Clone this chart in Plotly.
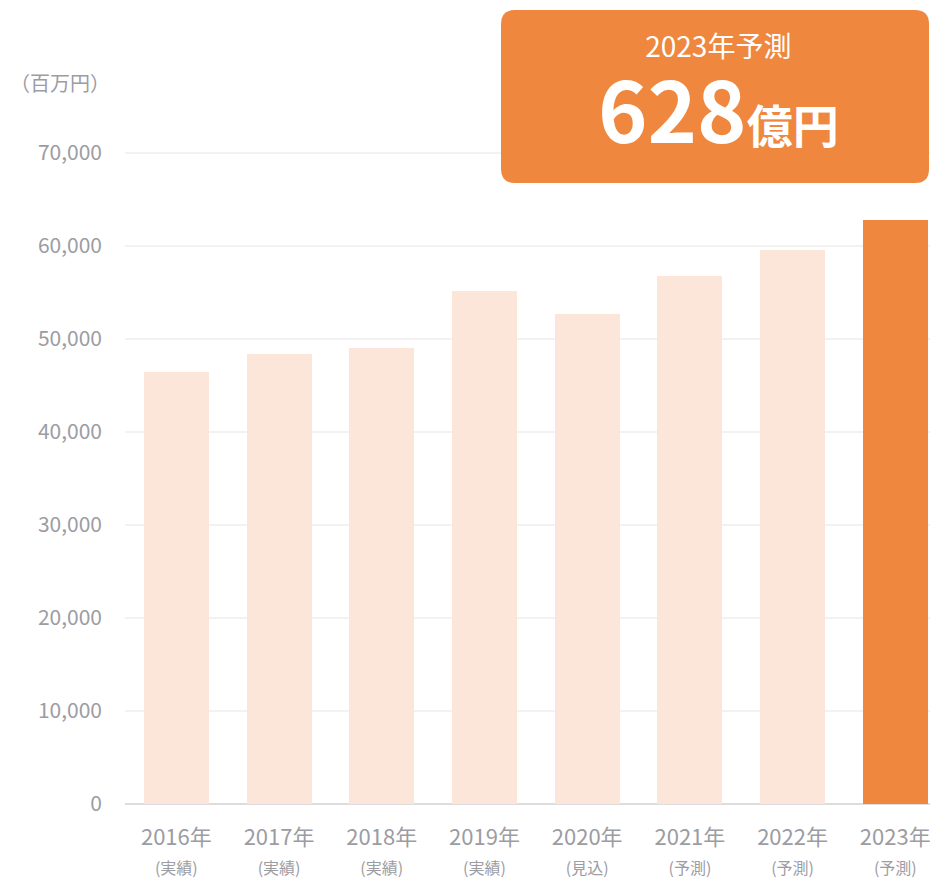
import plotly.graph_objects as go

years = ["2016年", "2017年", "2018年", "2019年", "2020年", "2021年", "2022年", "2023年"]
status = ["(実績)", "(実績)", "(実績)", "(実績)", "(見込)", "(予測)", "(予測)", "(予測)"]
values = [46450, 48350, 49000, 55130, 52650, 56740, 59610, 62800]
y_ticks = [0, 10000, 20000, 30000, 40000, 50000, 60000, 70000]
y_tick_labels = ["0", "10,000", "20,000", "30,000", "40,000", "50,000", "60,000", "70,000"]

LIGHT = "#FCE6D9"
ORANGE = "#EF873F"
GRAY = "#9C9CA3"
FONT = "Noto Sans CJK JP"

colors = [LIGHT] * (len(values) - 1) + [ORANGE]
ticktext = [f"{y}<br><span style='font-size:16px'>{s}</span>" for y, s in zip(years, status)]

W, H = 930, 880
L, R, T, B = 125, 0, 60, 76
pw, ph = W - L - R, H - T - B

def px(x):
    return (x - L) / pw

def py(y):
    return (H - B - y) / ph

fig = go.Figure(go.Bar(
    x=list(range(len(years))), y=values, marker_color=colors,
    marker_line_width=0, width=0.633, hoverinfo="skip",
))

# rounded box
x0, x1, y0, y1, r = 501, 929, 10, 183, 14
path = (
    f"M {px(x0 + r)} {py(y0)} L {px(x1 - r)} {py(y0)} "
    f"Q {px(x1)} {py(y0)} {px(x1)} {py(y0 + r)} "
    f"L {px(x1)} {py(y1 - r)} Q {px(x1)} {py(y1)} {px(x1 - r)} {py(y1)} "
    f"L {px(x0 + r)} {py(y1)} Q {px(x0)} {py(y1)} {px(x0)} {py(y1 - r)} "
    f"L {px(x0)} {py(y0 + r)} Q {px(x0)} {py(y0)} {px(x0 + r)} {py(y0)} Z"
)
fig.add_shape(type="path", path=path, xref="paper", yref="paper",
              fillcolor=ORANGE, line_width=0, layer="above")

box_text = ("<span style='font-size:28px'>2023年予測</span><br>"
            "<span style='font-size:84px'><b>628</b></span>"
            "<span style='font-size:46px'><b>億円</b></span>")
fig.add_annotation(x=px(718), y=py(96), xref="paper", yref="paper",
                   xanchor="center", yanchor="middle",
                   text=box_text, showarrow=False,
                   font=dict(family=FONT, size=66, color="white"))
fig.add_annotation(x=px(60), y=py(83), xref="paper", yref="paper",
                   xanchor="center", yanchor="middle",
                   text="（百万円）", showarrow=False,
                   font=dict(family=FONT, size=20, color=GRAY))

fig.update_layout(
    width=W, height=H,
    margin=dict(l=L, r=R, t=T, b=B),
    plot_bgcolor="white", paper_bgcolor="white",
    showlegend=False,
    bargap=0,
    font=dict(family=FONT, color=GRAY),
    xaxis=dict(
        range=[-0.5, 7.338], tickvals=list(range(len(years))), ticktext=ticktext,
        showgrid=False, zeroline=False, showline=False,
        tickfont=dict(size=22, color=GRAY), ticklabelstandoff=18,
        ticklabeloverflow="allow", fixedrange=True,
    ),
    yaxis=dict(
        range=[0, 80000], tickvals=y_ticks, ticktext=y_tick_labels,
        showgrid=True, gridcolor="#F2F2F2", gridwidth=2,
        zeroline=True, zerolinecolor="#DDDDDD", zerolinewidth=2,
        showline=False, tickfont=dict(size=21, color=GRAY),
        ticklabelstandoff=22, fixedrange=True,
    ),
)

fig.write_html("out.html", config={"displayModeBar": False},
               post_script="document.body.style.margin='0';document.body.style.overflow='hidden';")
